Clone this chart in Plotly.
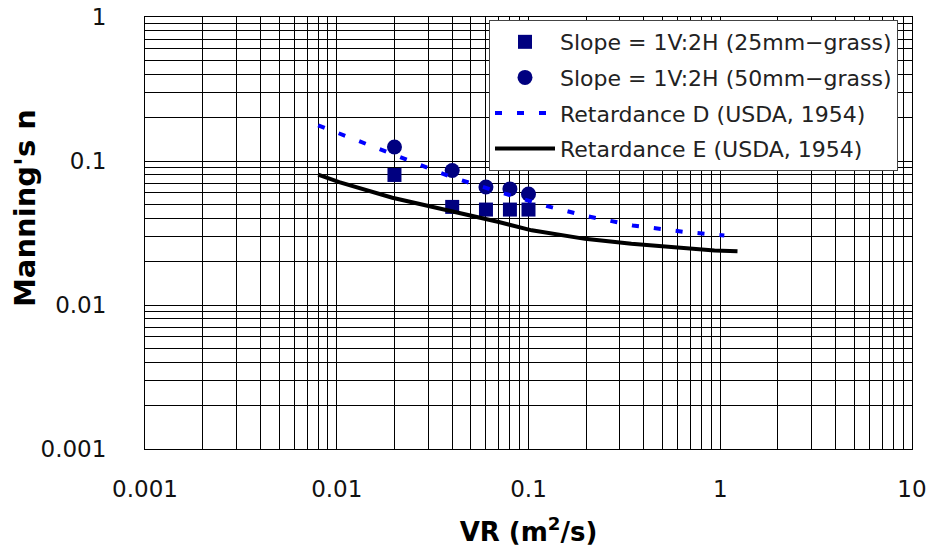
import plotly.graph_objects as go

# ---- data ----
vr_25 = [0.02, 0.04, 0.06, 0.08, 0.1]
n_25 = [0.080, 0.048, 0.046, 0.046, 0.046]

vr_50 = [0.02, 0.04, 0.06, 0.08, 0.1]
n_50 = [0.125, 0.086, 0.066, 0.064, 0.059]

vr_d = [0.008, 0.0139, 0.0229, 0.04, 0.07, 0.125, 0.205, 0.35, 0.66, 1.05]
n_d = [0.177, 0.133, 0.102, 0.077, 0.061, 0.0486, 0.0412, 0.0357, 0.0321, 0.0304]

vr_e = [0.008, 0.0103, 0.0195, 0.0384, 0.07, 0.104, 0.197, 0.344, 0.578, 0.933, 1.23]
n_e = [0.0804, 0.0714, 0.0556, 0.0454, 0.0377, 0.0330, 0.0288, 0.0266, 0.0250, 0.0239, 0.0236]

x_tickvals = [0.001, 0.01, 0.1, 1, 10]
x_ticktext = ["0.001", "0.01", "0.1", "1", "10"]
y_tickvals = [0.001, 0.01, 0.1, 1]
y_ticktext = ["0.001", "0.01", "0.1", "1"]

names = ["Slope = 1V:2H (25mm\u2212grass)", "Slope = 1V:2H (50mm\u2212grass)",
         "Retardance D (USDA, 1954)", "Retardance E (USDA, 1954)"]

FONT = "DejaVu Sans"

fig = go.Figure()
fig.add_trace(go.Scatter(x=vr_25, y=n_25, mode="markers", name=names[0], legendgroup="a",
                         marker=dict(symbol="square", size=14, color="#000080")))
fig.add_trace(go.Scatter(x=vr_50, y=n_50, mode="markers", name=names[1], legendgroup="b",
                         marker=dict(symbol="circle", size=15, color="#000080")))
fig.add_trace(go.Scatter(x=vr_d, y=n_d, mode="lines", name=names[2], legendgroup="c",
                         line=dict(color="#0000FF", width=4, dash="7px,15px")))
fig.add_trace(go.Scatter(x=vr_e, y=n_e, mode="lines", name=names[3], legendgroup="d",
                         line=dict(color="black", width=4)))

axis_common = dict(
    type="log", showgrid=True, gridcolor="black", gridwidth=1,
    showline=True, linecolor="black", linewidth=1, mirror=True,
    ticks="", zeroline=False,
    tickfont=dict(family=FONT, size=23, color="#111"),
    minor=dict(dtick="D1", showgrid=True, gridcolor="black", gridwidth=1),
)

fig.update_xaxes(range=[-3, 1], tickvals=x_tickvals, ticktext=x_ticktext,
                 ticklabelstandoff=19,
                 title=dict(text="<b>VR (m<sup>2</sup>/s)</b>", font=dict(family=FONT, size=26, color="black"),
                            standoff=22),
                 **axis_common)
fig.update_yaxes(range=[-3, 0], tickvals=y_tickvals, ticktext=y_ticktext,
                 ticklabelstandoff=33,
                 **axis_common)

# y-axis title placed as in the reference (slightly above the plot centre)
fig.add_annotation(text="<b>Manning's n</b>", xref="paper", yref="paper",
                   x=(25 - 145) / 767, y=(449 - 208) / 432, xanchor="center", yanchor="middle",
                   textangle=-90, showarrow=False,
                   font=dict(family=FONT, size=29, color="black"))

fig.update_layout(
    width=928, height=556,
    margin=dict(l=145, r=16, t=17, b=107, autoexpand=False),
    plot_bgcolor="white", paper_bgcolor="white",
    legend=dict(x=0.4485, y=0.993, xanchor="left", yanchor="top",
                bgcolor="white", bordercolor="#444", borderwidth=1,
                font=dict(family=FONT, size=22, color="#222"),
                traceorder="grouped", tracegroupgap=4, itemwidth=60),
)

fig.write_html("out.html", config={"displayModeBar": False},
               post_script="document.body.style.margin='0';")
